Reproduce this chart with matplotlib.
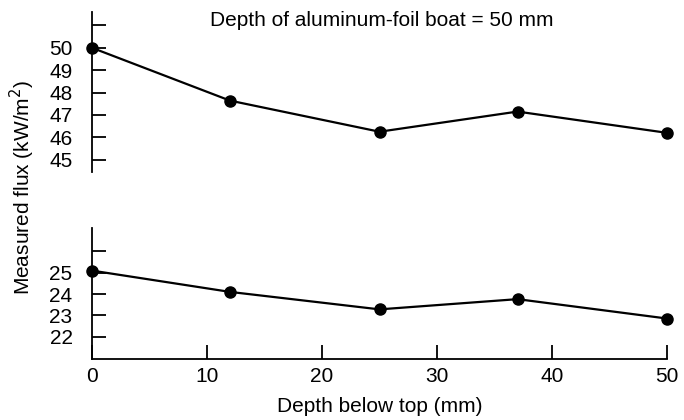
import matplotlib
matplotlib.use('Agg')
import matplotlib.pyplot as plt

plt.rcParams['font.family'] = ['Liberation Sans', 'DejaVu Sans']

# data
depth = [0, 12, 25, 37, 50]
flux_top = [50.0, 47.64, 46.25, 47.15, 46.2]
flux_bottom = [25.1, 24.1, 23.28, 23.76, 22.85]

top_ticks = [45, 46, 47, 48, 49, 50, 51]
top_labels = ['45', '46', '47', '48', '49', '50', '']
bot_ticks = [22, 23, 24, 25, 26]
bot_labels = ['22', '23', '24', '25', '']
x_ticks = [0, 10, 20, 30, 40, 50]

W, H = 684, 420
fig = plt.figure(figsize=(W / 100, H / 100), dpi=100)


def px_axes(left, top, right, bottom):
    return fig.add_axes([left / W, 1 - bottom / H, (right - left) / W, (bottom - top) / H])


ax1 = px_axes(92, 12, 667, 172)
ax2 = px_axes(92, 228, 667, 359)

line_kw = dict(color='black', lw=1.6, marker='o', markersize=8, clip_on=False)
ax1.plot(depth, flux_top, **line_kw)
ax2.plot(depth, flux_bottom, **line_kw)

for ax in (ax1, ax2):
    ax.set_xlim(0, 50)
    for s in ('top', 'right'):
        ax.spines[s].set_visible(False)
    ax.spines['left'].set_linewidth(1.3)
    ax.spines['bottom'].set_linewidth(1.3)
    ax.tick_params(direction='in', length=10, width=1.3, labelsize=15, pad=14)

ax1.spines['bottom'].set_visible(False)
ax1.set_ylim(44.45, 51.6)
ax1.set_yticks(top_ticks)
ax1.set_yticklabels(top_labels)
ax1.set_xticks([])

ax2.set_ylim(20.95, 27.1)
ax2.set_yticks(bot_ticks)
ax2.set_yticklabels(bot_labels)
ax2.set_xticks(x_ticks)
ax2.tick_params(axis='x', pad=6)
ax2.set_xlabel('Depth below top (mm)', fontsize=15, labelpad=8)

fig.text(381.5 / W, 1 - 26 / H, 'Depth of aluminum-foil boat = 50 mm',
         ha='center', va='baseline', fontsize=15)
fig.text(22 / W, 1 - 188 / H, 'Measured flux (kW/m$^2$)', rotation=90,
         ha='center', va='center', fontsize=15)

fig.savefig('out.png', dpi=100)
